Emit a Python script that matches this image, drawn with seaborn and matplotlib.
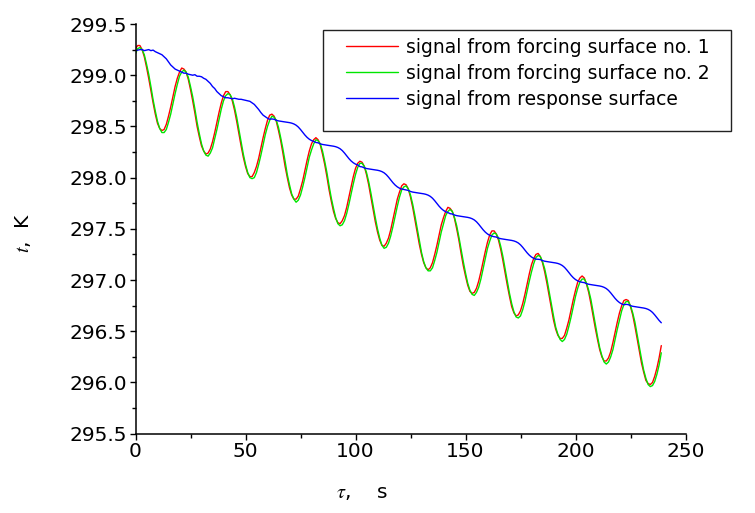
import numpy as np
import pandas as pd
import matplotlib
matplotlib.use("Agg")
import matplotlib.pyplot as plt
import seaborn as sns
from matplotlib.ticker import MultipleLocator, FormatStrFormatter
from matplotlib.patches import Rectangle

# ---------------- data (1 s sampling) ----------------
time_s = np.arange(0, 240)

red_forcing1 = [
    299.26, 299.29, 299.29, 299.25, 299.18, 299.08, 298.97, 298.85, 298.73, 298.62,
    298.53, 298.48, 298.46, 298.47, 298.52, 298.60, 298.69, 298.79, 298.89, 298.97,
    299.03, 299.07, 299.06, 299.03, 298.96, 298.86, 298.75, 298.63, 298.50, 298.40,
    298.31, 298.26, 298.23, 298.24, 298.28, 298.35, 298.44, 298.54, 298.64, 298.73,
    298.80, 298.84, 298.84, 298.81, 298.75, 298.66, 298.55, 298.43, 298.31, 298.20,
    298.11, 298.04, 298.01, 298.01, 298.05, 298.11, 298.19, 298.29, 298.39, 298.48,
    298.56, 298.61, 298.62, 298.60, 298.55, 298.46, 298.36, 298.24, 298.11, 298.00,
    297.90, 297.83, 297.79, 297.79, 297.82, 297.89, 297.97, 298.07, 298.17, 298.26,
    298.33, 298.37, 298.39, 298.37, 298.32, 298.23, 298.13, 298.01, 297.88, 297.77,
    297.67, 297.60, 297.56, 297.55, 297.58, 297.63, 297.71, 297.81, 297.91, 298.01,
    298.09, 298.14, 298.16, 298.15, 298.11, 298.03, 297.93, 297.81, 297.69, 297.57,
    297.47, 297.39, 297.34, 297.33, 297.36, 297.41, 297.49, 297.59, 297.69, 297.79,
    297.86, 297.92, 297.94, 297.93, 297.89, 297.81, 297.71, 297.59, 297.47, 297.35,
    297.25, 297.17, 297.12, 297.10, 297.12, 297.17, 297.25, 297.34, 297.44, 297.54,
    297.61, 297.67, 297.71, 297.70, 297.67, 297.60, 297.50, 297.39, 297.26, 297.14,
    297.04, 296.95, 296.89, 296.87, 296.88, 296.92, 296.99, 297.08, 297.18, 297.28,
    297.37, 297.44, 297.48, 297.48, 297.45, 297.39, 297.30, 297.19, 297.07, 296.95,
    296.84, 296.74, 296.68, 296.65, 296.66, 296.70, 296.77, 296.86, 296.96, 297.06,
    297.15, 297.21, 297.25, 297.26, 297.23, 297.17, 297.08, 296.97, 296.85, 296.73,
    296.61, 296.52, 296.46, 296.43, 296.43, 296.46, 296.53, 296.61, 296.71, 296.81,
    296.90, 296.98, 297.02, 297.04, 297.02, 296.96, 296.88, 296.77, 296.65, 296.53,
    296.42, 296.32, 296.25, 296.21, 296.21, 296.24, 296.30, 296.39, 296.49, 296.59,
    296.68, 296.75, 296.80, 296.81, 296.80, 296.74, 296.66, 296.55, 296.43, 296.31,
    296.19, 296.10, 296.02, 295.99, 295.98, 296.00, 296.06, 296.14, 296.24, 296.36,
]

green_forcing2 = [
    299.21, 299.26, 299.27, 299.25, 299.20, 299.11, 299.01, 298.89, 298.76, 298.65,
    298.55, 298.48, 298.44, 298.44, 298.47, 298.54, 298.62, 298.72, 298.82, 298.91,
    298.99, 299.03, 299.05, 299.03, 298.98, 298.89, 298.79, 298.67, 298.54, 298.43,
    298.33, 298.26, 298.22, 298.21, 298.24, 298.29, 298.38, 298.47, 298.57, 298.67,
    298.75, 298.80, 298.82, 298.81, 298.77, 298.69, 298.59, 298.47, 298.35, 298.23,
    298.13, 298.05, 298.00, 297.99, 298.00, 298.05, 298.13, 298.22, 298.32, 298.42,
    298.50, 298.56, 298.60, 298.59, 298.56, 298.49, 298.39, 298.28, 298.16, 298.03,
    297.93, 297.84, 297.79, 297.76, 297.78, 297.83, 297.91, 298.00, 298.10, 298.20,
    298.27, 298.33, 298.37, 298.36, 298.33, 298.26, 298.16, 298.05, 297.92, 297.80,
    297.70, 297.61, 297.55, 297.53, 297.54, 297.58, 297.65, 297.74, 297.84, 297.94,
    298.03, 298.10, 298.14, 298.14, 298.11, 298.05, 297.96, 297.85, 297.73, 297.61,
    297.50, 297.41, 297.34, 297.31, 297.32, 297.36, 297.43, 297.52, 297.62, 297.72,
    297.81, 297.88, 297.91, 297.92, 297.89, 297.83, 297.74, 297.63, 297.51, 297.39,
    297.27, 297.18, 297.12, 297.09, 297.09, 297.12, 297.19, 297.27, 297.37, 297.47,
    297.55, 297.63, 297.67, 297.69, 297.67, 297.61, 297.53, 297.42, 297.30, 297.18,
    297.07, 296.97, 296.90, 296.86, 296.85, 296.88, 296.93, 297.01, 297.11, 297.21,
    297.31, 297.38, 297.44, 297.46, 297.45, 297.41, 297.33, 297.23, 297.11, 296.99,
    296.87, 296.77, 296.69, 296.64, 296.63, 296.65, 296.71, 296.79, 296.89, 296.99,
    297.08, 297.16, 297.22, 297.24, 297.23, 297.18, 297.11, 297.01, 296.89, 296.77,
    296.65, 296.54, 296.47, 296.42, 296.40, 296.42, 296.47, 296.55, 296.64, 296.74,
    296.84, 296.92, 296.98, 297.01, 297.01, 296.97, 296.90, 296.81, 296.69, 296.57,
    296.45, 296.34, 296.26, 296.20, 296.18, 296.20, 296.25, 296.32, 296.42, 296.52,
    296.61, 296.70, 296.76, 296.79, 296.79, 296.75, 296.68, 296.59, 296.47, 296.35,
    296.23, 296.12, 296.04, 295.98, 295.96, 295.97, 296.01, 296.08, 296.17, 296.29,
]

blue_response = [
    299.24, 299.245, 299.25, 299.25, 299.24, 299.245, 299.25, 299.24, 299.245, 299.23,
    299.22, 299.21, 299.20, 299.18, 299.16, 299.13, 299.10, 299.08, 299.06, 299.05,
    299.04, 299.03, 299.02, 299.02, 299.01, 299.005, 299.00, 299.005, 298.99, 298.99,
    298.985, 298.97, 298.96, 298.94, 298.92, 298.89, 298.87, 298.84, 298.82, 298.80,
    298.79, 298.78, 298.78, 298.775, 298.77, 298.775, 298.77, 298.765, 298.765, 298.76,
    298.755, 298.75, 298.745, 298.73, 298.715, 298.69, 298.665, 298.635, 298.61, 298.595,
    298.58, 298.57, 298.573, 298.57, 298.56, 298.554, 298.55, 298.547, 298.544, 298.541,
    298.537, 298.532, 298.524, 298.512, 298.494, 298.47, 298.443, 298.416, 298.393, 298.375,
    298.362, 298.354, 298.343, 298.34, 298.33, 298.324, 298.32, 298.317, 298.314, 298.311,
    298.307, 298.302, 298.294, 298.282, 298.264, 298.24, 298.213, 298.186, 298.163, 298.145,
    298.132, 298.124, 298.108, 298.105, 298.095, 298.089, 298.085, 298.082, 298.079, 298.076,
    298.072, 298.067, 298.059, 298.047, 298.029, 298.005, 297.978, 297.951, 297.928, 297.91,
    297.897, 297.889, 297.884, 297.878, 297.875, 297.865, 297.859, 297.855, 297.852, 297.849,
    297.846, 297.842, 297.837, 297.829, 297.817, 297.799, 297.775, 297.748, 297.721, 297.698,
    297.68, 297.667, 297.659, 297.648, 297.645, 297.635, 297.629, 297.625, 297.622, 297.619,
    297.616, 297.612, 297.607, 297.599, 297.587, 297.569, 297.545, 297.518, 297.491, 297.468,
    297.45, 297.437, 297.429, 297.423, 297.42, 297.41, 297.404, 297.40, 297.397, 297.394,
    297.391, 297.387, 297.382, 297.374, 297.362, 297.344, 297.32, 297.293, 297.266, 297.243,
    297.225, 297.212, 297.204, 297.203, 297.20, 297.19, 297.184, 297.18, 297.177, 297.174,
    297.171, 297.167, 297.162, 297.154, 297.142, 297.124, 297.10, 297.073, 297.046, 297.023,
    297.005, 296.992, 296.984, 296.978, 296.975, 296.965, 296.959, 296.955, 296.952, 296.949,
    296.946, 296.942, 296.937, 296.929, 296.917, 296.899, 296.875, 296.848, 296.821, 296.798,
    296.78, 296.767, 296.759, 296.763, 296.76, 296.75, 296.744, 296.74, 296.737, 296.734,
    296.731, 296.727, 296.722, 296.714, 296.702, 296.684, 296.66, 296.633, 296.606, 296.583,
]

series_labels = [
    "signal from forcing surface no. 1",
    "signal from forcing surface no. 2",
    "signal from response surface",
]
series_colors = ["#ff0000", "#00e600", "#0000ff"]

x_ticks = [0, 50, 100, 150, 200, 250]
y_ticks = [295.5, 296.0, 296.5, 297.0, 297.5, 298.0, 298.5, 299.0, 299.5]

# ---------------- figure ----------------
sns.set_theme(style="ticks")
plt.rcParams["font.family"] = ["DejaVu Sans"]
plt.rcParams["mathtext.fontset"] = "stix"
plt.rcParams["text.color"] = "black"
plt.rcParams["axes.labelcolor"] = "black"
plt.rcParams["xtick.color"] = "black"
plt.rcParams["ytick.color"] = "black"

W, H = 755, 513
fig = plt.figure(figsize=(W / 100, H / 100), dpi=100)
fig.patch.set_facecolor("white")
ax_left, ax_right, ax_top, ax_bottom = 135.5, 685.5, 24.0, 433.7
ax = fig.add_axes([ax_left / W, 1 - ax_bottom / H,
                   (ax_right - ax_left) / W, (ax_bottom - ax_top) / H])
ax.set_facecolor("white")

df = pd.DataFrame({
    "time": np.concatenate([time_s, time_s, time_s]),
    "temp": np.array(red_forcing1 + green_forcing2 + blue_response),
    "series": [series_labels[0]] * len(time_s)
              + [series_labels[1]] * len(time_s)
              + [series_labels[2]] * len(time_s),
})

sns.lineplot(data=df, x="time", y="temp", hue="series",
             hue_order=series_labels,
             palette=dict(zip(series_labels, series_colors)),
             linewidth=1.0, estimator=None, sort=False, ax=ax, legend=True)

ax.set_xlim(0, 250)
ax.set_ylim(295.5, 299.5)
ax.set_xticks(x_ticks)
ax.set_yticks(y_ticks)
ax.xaxis.set_minor_locator(MultipleLocator(25))
ax.yaxis.set_minor_locator(MultipleLocator(0.25))
ax.yaxis.set_major_formatter(FormatStrFormatter("%.1f"))
ax.xaxis.set_major_formatter(FormatStrFormatter("%d"))
ax.set_xlabel("")
ax.set_ylabel("")

for side in ["top", "right"]:
    ax.spines[side].set_visible(False)
for side in ["left", "bottom"]:
    ax.spines[side].set_color("black")
    ax.spines[side].set_linewidth(1.1)

ax.tick_params(which="major", direction="out", length=4.5, width=1.0,
               colors="black", labelsize=14.5, pad=1.5)
ax.tick_params(which="minor", direction="out", length=2.6, width=1.0,
               colors="black")
ax.grid(False)

# legend (frame drawn separately to match the reference box)
handles, labels = ax.get_legend_handles_labels()
leg_fs_pt = 13.5
leg_fs_px = leg_fs_pt * 100 / 72
leg = ax.legend(handles, labels, loc="upper left",
                bbox_to_anchor=(346 / W, 1 - 38 / H),
                bbox_transform=fig.transFigure,
                frameon=False, fontsize=leg_fs_pt,
                borderpad=0, borderaxespad=0,
                handlelength=52 / leg_fs_px, handletextpad=8 / leg_fs_px,
                labelspacing=0.37)
for line in leg.get_lines():
    line.set_linewidth(1.0)
for txt in leg.get_texts():
    txt.set_color("black")

box = Rectangle((323 / W, 1 - 131 / H), (731 - 323) / W, (131 - 30) / H,
                transform=fig.transFigure, fill=False,
                edgecolor="#222222", linewidth=1.0, zorder=5)
fig.add_artist(box)

# axis labels
fig.text(23 / W, 1 - 233 / H, "$t$,  K", rotation=90, ha="center",
         va="center", fontsize=14.5, color="black")
fig.text(362 / W, 1 - 493 / H, r"$\tau$,    s", ha="center", va="center",
         fontsize=14.5, color="black")

fig.savefig("out.png", dpi=100, facecolor="white")
